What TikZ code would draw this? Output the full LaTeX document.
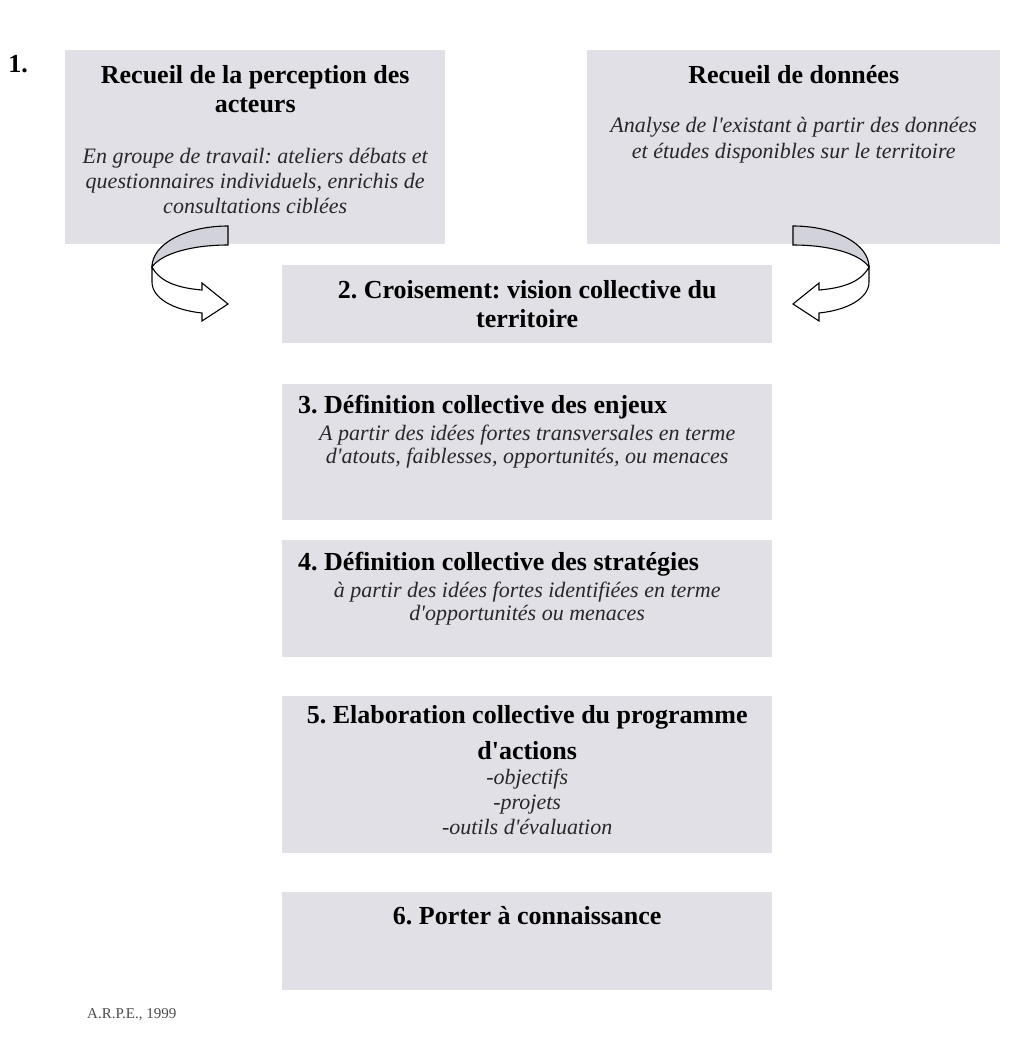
\documentclass[tikz,border=0pt]{standalone}
\usepackage{fontspec}
\setmainfont{Liberation Serif}
\usetikzlibrary{positioning}
\definecolor{BoxGray}{RGB}{224,224,230}
\definecolor{BandGray}{RGB}{210,210,218}
\definecolor{NoteGray}{RGB}{40,40,40}
\newcommand{\apos}{\textquotesingle}
\tikzset{
    box/.style={
        rectangle,
        fill=BoxGray,
        inner sep=0pt,
        minimum width=490pt
    },
    ttl/.style={
        font=\fontsize{26}{29}\selectfont\bfseries,
        align=center,
        inner sep=0pt
    },
    note/.style={
        font=\fontsize{22}{25}\selectfont\itshape,
        text=NoteGray,
        align=center,
        inner sep=0pt
    },
    twist/.pic={
        % back of the band
        \draw[fill=BandGray, line width=1.1pt] (0,0) -- (0,19)
            .. controls (-35,19) and (-66,27) .. (-76,41)
            .. controls (-76,18) and (-42,0) .. (0,0) -- cycle;
        % front of the band with the head
        \draw[fill=white, line width=1.1pt] (-76,41)
            .. controls (-68,56) and (-50,62) .. (-26,64)
            -- (-26,57) -- (0,78) -- (-26,95) -- (-26,87)
            .. controls (-55,84) and (-76,72) .. (-76,56) -- cycle;
    }
}

\begin{document}
\frenchspacing
\begin{tikzpicture}[x=1pt, y=-1pt]

\useasboundingbox[fill=white] (0,0) rectangle (1031,1037);

% Step 1
\node[ttl, anchor=base east] (num) at (28,72) {1.};
\node[box, minimum width=380pt, minimum height=194pt, anchor=north west] (acteurs) at (65,50) {};
\node[box, minimum width=413pt, minimum height=194pt, anchor=north west] (donnees) at (587,50) {};

% base anchor sits on the last line
\node[ttl, anchor=base] (acteurs-t) at ([yshift=-62pt]acteurs.north) {Recueil de la perception des\\acteurs};
\node[note, anchor=base] (acteurs-n) at ([yshift=-163pt]acteurs.north) {En groupe de travail: ateliers débats et\\questionnaires individuels, enrichis de\\consultations ciblées};

\node[ttl, anchor=base] (donnees-t) at ([yshift=-33pt]donnees.north) {Recueil de données};
\node[note, anchor=base] (donnees-n) at ([yshift=-108pt]donnees.north) {Analyse de l\apos existant à partir des données\\[1pt]et études disponibles sur le territoire};

% Steps 2 to 6
\node[box, minimum height=78pt, anchor=north west] (croisement) at (282,265) {};
\node[box, minimum height=136pt, below=40pt of croisement] (enjeux) {};
\node[box, minimum height=117pt, below=20pt of enjeux] (strategies) {};
\node[box, minimum height=157pt, below=39pt of strategies] (programme) {};
\node[box, minimum height=98pt, below=38pt of programme] (diffusion) {};

\node[ttl, anchor=base] (croisement-t) at ([yshift=-62pt]croisement.north) {2. Croisement: vision collective du\\territoire};

\node[ttl, anchor=base west] (enjeux-t) at ([xshift=16pt, yshift=-30pt]enjeux.north west) {3. Définition collective des enjeux};
\node[note, anchor=base] (enjeux-n) at ([yshift=-80pt]enjeux.north) {A partir des idées fortes transversales en terme\\[-2pt]d\apos atouts, faiblesses, opportunités, ou menaces};

\node[ttl, anchor=base west] (strategies-t) at ([xshift=16pt, yshift=-31pt]strategies.north west) {4. Définition collective des stratégies};
\node[note, anchor=base] (strategies-n) at ([yshift=-81pt]strategies.north) {à partir des idées fortes identifiées en terme\\[-2pt]d\apos opportunités ou menaces};

\node[ttl, anchor=base] (programme-t) at ([yshift=-63pt]programme.north) {5. Elaboration collective du programme\\[7pt]d\apos actions};
\node[note, anchor=base] (programme-n) at ([yshift=-138pt]programme.north) {-objectifs\\-projets\\-outils d\apos évaluation};

\node[ttl, anchor=base] (diffusion-t) at ([yshift=-33pt]diffusion.north) {6. Porter à connaissance};

% curved arrows into step 2
\pic at (228,226) {twist};
\pic[xscale=-1] at (793,226) {twist};

% source
\node[anchor=base west, inner sep=0pt, font=\fontsize{15}{17}\selectfont, text=black!70] (source) at (87,1018) {A.R.P.E., 1999};

\end{tikzpicture}
\end{document}
